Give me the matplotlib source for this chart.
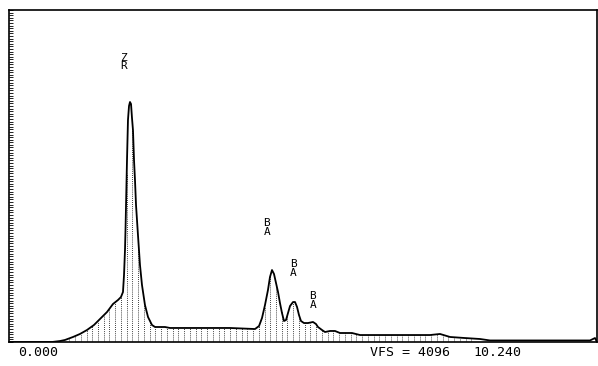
import numpy as np
import matplotlib
matplotlib.use("Agg")
import matplotlib.pyplot as plt
from matplotlib.ticker import MultipleLocator

# spectrum trace (energy in keV, counts)
energy = [0.000, 0.749, 0.888, 0.975, 1.115, 1.236, 1.358, 1.480, 1.585, 1.707,
          1.811, 1.898, 1.950, 1.985, 2.003, 2.020, 2.029, 2.055, 2.072, 2.090,
          2.107, 2.125, 2.142, 2.159, 2.177, 2.194, 2.212, 2.229, 2.246, 2.281,
          2.316, 2.368, 2.421, 2.490, 2.543, 2.717, 2.804, 3.326, 3.849, 4.284,
          4.354, 4.406, 4.458, 4.510, 4.545, 4.580, 4.615, 4.650, 4.685, 4.719,
          4.754, 4.789, 4.824, 4.859, 4.894, 4.946, 4.981, 5.016, 5.050, 5.085,
          5.137, 5.207, 5.294, 5.346, 5.381, 5.451, 5.503, 5.590, 5.677, 5.764,
          5.973, 6.113, 6.809, 7.332, 7.506, 7.680, 7.941, 8.202, 8.377, 10.118,
          10.205, 10.240]
counts = [0, 0, 12, 25, 62, 99, 148, 210, 284, 370,
          469, 518, 555, 617, 827, 1135, 1382, 2245, 2739, 2912,
          2961, 2936, 2763, 2615, 2245, 1999, 1690, 1505, 1320, 950,
          703, 456, 308, 210, 185, 185, 173, 173, 173, 160,
          197, 296, 456, 642, 802, 888, 839, 728, 617, 481,
          358, 259, 271, 358, 444, 493, 493, 432, 333, 259,
          234, 234, 247, 222, 185, 148, 123, 136, 136, 111,
          111, 86, 86, 86, 99, 62, 49, 37, 19, 19,
          49, 0]

# peak labels: element, energy (keV), counts at label top
peak_names = ["ZR", "BA", "BA", "BA"]
peak_energy = [2.00, 4.49, 4.95, 5.29]
peak_counts = [3570, 1530, 1025, 630]

full_scale = 4096
x_max = 10.240

fig = plt.figure(figsize=(5.98, 3.66), dpi=100)
ax = fig.add_axes([9 / 598, 1 - 342 / 366, 588 / 598, 332 / 366])
ax.set_xlim(0, x_max)
ax.set_ylim(0, full_scale)

ax.plot(energy, counts, color="black", lw=1.3)

# dotted vertical hatching under the trace
xs = np.arange(0.05, x_max, 0.1)
hs = np.interp(xs, energy, counts)
keep = hs > 40
ax.vlines(xs[keep], 0, hs[keep], colors="black", linestyles=(0, (1, 1.5)), lw=0.6)

for name, e, c in zip(peak_names, peak_energy, peak_counts):
    ax.text(e, c, "\n".join(name), ha="center", va="top", fontsize=8,
            family="DejaVu Sans Mono", linespacing=0.85)

ax.set_xticks([])
ax.yaxis.set_major_locator(MultipleLocator(32))
ax.tick_params(axis="y", which="both", direction="in", labelleft=False,
               length=3, width=0.6)
for s in ax.spines.values():
    s.set_linewidth(1.2)

fig.text(18 / 598, 1 - 352 / 366, "0.000", fontsize=9.5, family="DejaVu Sans Mono", va="center")
fig.text(370 / 598, 1 - 352 / 366, "VFS = 4096", fontsize=9.5, family="DejaVu Sans Mono", va="center")
fig.text(473 / 598, 1 - 352 / 366, "10.240", fontsize=9.5, family="DejaVu Sans Mono", va="center")

fig.savefig("out.png", dpi=100)
